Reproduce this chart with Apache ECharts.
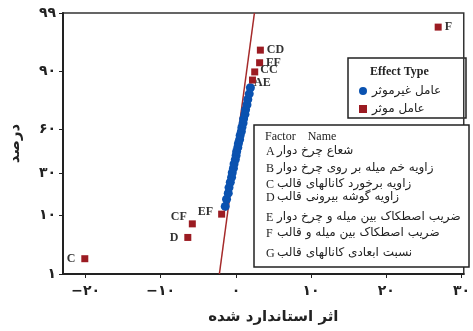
<!DOCTYPE html>
<html><head><meta charset="utf-8">
<script src="https://cdn.jsdelivr.net/npm/echarts@6/dist/echarts.min.js"></script>
<style>html,body{margin:0;padding:0;background:#fff}#c{width:473px;height:331px}</style>
</head><body><div id="c"></div>
<script>
// ---- data ----
const sigNames = ['C','D','CF','EF','AE','CC','FF','CD','F'];
const sigEffect = [-20.1,-6.4,-5.8,-1.9,2.2,2.5,3.15,3.25,26.9];
const sigPercent = [2.0,4.7,7.6,10.4,87.1,89.9,92.5,95.2,98.1];
const nonSigEffect = [-1.42,-1.25,-1.02,-0.92,-0.75,-0.58,-0.49,-0.33,-0.25,-0.08,0.02,0.10,0.25,0.33,0.49,0.56,0.72,0.80,0.95,1.02,1.20,1.28,1.47,1.58,1.77,1.92];
const nonSigPercent = [13.1,16.0,18.8,21.6,24.5,27.3,30.1,33.0,35.8,38.7,41.5,44.3,47.2,50.0,52.8,55.7,58.5,61.4,64.2,67.0,69.9,72.7,75.5,78.4,81.2,84.0];
const fitEffect = [-2.2,2.46];
const fitPercent = [1,99];
const xTicks = [-20,-10,0,10,20,30];
const yTicks = [1,10,30,60,90,99];
const seriesNames = ['عامل غیرموثر','عامل موثر'];
const factorLetters = ['A','B','C','D','E','F','G'];
const factorNames = ['شعاع چرخ دوار','زاویه خم میله بر روی چرخ دوار','زاویه برخورد کانالهای قالب','زاویه گوشه بیرونی قالب','ضریب اصطکاک بین میله و چرخ دوار','ضریب اصطکاک بین میله و قالب','نسبت ابعادی کانالهای قالب'];

// ---- normal probability scale ----
function probit(p){
 const a=[-3.969683028665376e+01,2.209460984245205e+02,-2.759285104469687e+02,1.383577518672690e+02,-3.066479806614716e+01,2.506628277459239e+00];
 const b=[-5.447609879822406e+01,1.615858368580409e+02,-1.556989798598866e+02,6.680131188771972e+01,-1.328068155288572e+01];
 const c=[-7.784894002430293e-03,-3.223964580411365e-01,-2.400758277161838e+00,-2.549732539343734e+00,4.374664141464968e+00,2.938163982698783e+00];
 const d=[7.784695709041462e-03,3.224671290700398e-01,2.445134137142996e+00,3.754408661907416e+00];
 const pl=0.02425, ph=1-pl; let q,r;
 if(p<pl){q=Math.sqrt(-2*Math.log(p));return (((((c[0]*q+c[1])*q+c[2])*q+c[3])*q+c[4])*q+c[5])/((((d[0]*q+d[1])*q+d[2])*q+d[3])*q+1);}
 if(p>ph){q=Math.sqrt(-2*Math.log(1-p));return -(((((c[0]*q+c[1])*q+c[2])*q+c[3])*q+c[4])*q+c[5])/((((d[0]*q+d[1])*q+d[2])*q+d[3])*q+1);}
 q=p-0.5;r=q*q;return (((((a[0]*r+a[1])*r+a[2])*r+a[3])*r+a[4])*r+a[5])*q/(((((b[0]*r+b[1])*r+b[2])*r+b[3])*r+b[4])*r+1);
}
const z = pct => probit(pct/100);
const fa = n => { const s=String(Math.abs(n)).replace(/[0-9]/g, d=>'۰۱۲۳۴۵۶۷۸۹'[d]); return (n<0?'−':'')+s; };

const labelPos = {
  C:{position:'left',distance:6}, D:{position:'left',distance:6}, CF:{position:'left',distance:2,offset:[0,-7]},
  EF:{position:'left',distance:5,offset:[0,-2]}, AE:{position:'right',distance:-2,offset:[0,3]},
  CC:{position:'right',distance:2,offset:[0,-2]}, FF:{position:'right',distance:3}, CD:{position:'right',distance:3}, F:{position:'right',distance:3}
};

const sigData = sigNames.map((n,i)=>({name:n, value:[sigEffect[i], z(sigPercent[i])], label:labelPos[n]}));
const nonSigData = nonSigEffect.map((x,i)=>[x, z(nonSigPercent[i])]);
const fitData = fitEffect.map((x,i)=>[x, z(fitPercent[i])]);

const serif = 'Liberation Serif, DejaVu Serif, DejaVu Sans';
const chart = echarts.init(document.getElementById('c'), null, {renderer:'canvas'});
const factorGraphics = [];
const rowY = [153,170,186,199,219,235,255];
factorLetters.forEach((L,i)=>{
  factorGraphics.push({type:'text', left:266, top:rowY[i]-7, style:{text:L, font:'12px '+serif, fill:'#222'}});
  factorGraphics.push({type:'text', left:277, top:rowY[i]-8, style:{text:factorNames[i], font:'12px DejaVu Sans', fill:'#222'}});
});

chart.setOption({
  animation:false,
  backgroundColor:'#fff',
  grid:{left:57, right:4, top:13, bottom:57, show:true, borderColor:'#333', borderWidth:1.5},
  xAxis:{
    type:'value', min:-23, max:30.3,
    name:'اثر استاندارد شده', nameLocation:'middle', nameGap:36,
    nameTextStyle:{fontSize:15, fontWeight:'bold', color:'#222', fontFamily:'DejaVu Sans', padding:[0,0,0,20]},
    axisLine:{onZero:false, lineStyle:{color:'#222', width:2}},
    axisTick:{show:true, customValues:xTicks, length:4, lineStyle:{color:'#222'}},
    axisLabel:{customValues:xTicks, formatter:v=>fa(Math.round(v)), fontSize:14, fontWeight:'bold', color:'#222', margin:10, fontFamily:'DejaVu Sans'},
    splitLine:{show:false}
  },
  yAxis:{
    type:'value', min:z(1), max:z(99),
    name:'درصد', nameLocation:'middle', nameGap:40, nameRotate:90,
    nameTextStyle:{fontSize:15, fontWeight:'bold', color:'#222', fontFamily:'DejaVu Sans'},
    axisLine:{show:true, onZero:false, lineStyle:{color:'#222', width:2}},
    axisTick:{show:true, customValues:yTicks.map(z), length:4, lineStyle:{color:'#222'}},
    axisLabel:{customValues:yTicks.map(z), formatter:v=>{const t=yTicks.find(t=>Math.abs(z(t)-v)<1e-6);return fa(t);}, fontSize:14, fontWeight:'bold', color:'#222', margin:7, fontFamily:'DejaVu Sans'},
    splitLine:{show:false}
  },
  legend:{
    data:seriesNames, orient:'vertical', left:354, top:80, itemGap:6, itemWidth:8, itemHeight:8,
    textStyle:{fontSize:12, color:'#222', fontFamily:'DejaVu Sans'}
  },
  graphic:[
    {type:'rect', shape:{x:348,y:58,width:118,height:60}, style:{fill:'#fff', stroke:'#222', lineWidth:1.5}, z:-1},
    {type:'text', left:370, top:66, style:{text:'Effect Type', font:'bold 12px '+serif, fill:'#222'}},
    {type:'rect', shape:{x:254,y:125,width:215,height:142}, style:{fill:'#fff', stroke:'#222', lineWidth:1.5}},
    {type:'text', left:265, top:131, style:{text:'Factor    Name', font:'12px '+serif, fill:'#222'}},
    ...factorGraphics
  ],
  series:[
    {name:'fit', type:'line', data:fitData, symbol:'none', lineStyle:{color:'#a52a2a', width:1.5}, silent:true, z:1},
    {name:seriesNames[0], type:'scatter', data:nonSigData, symbol:'circle', symbolSize:9, itemStyle:{color:'#0a52b0', opacity:1}, z:2},
    {name:seriesNames[1], type:'scatter', data:sigData, symbol:'rect', symbolSize:7, itemStyle:{color:'#9b1b22', opacity:1}, z:3,
     label:{show:true, formatter:p=>p.name, fontSize:12, fontWeight:'bold', color:'#333', fontFamily:serif}}
  ]
});
</script></body></html>
